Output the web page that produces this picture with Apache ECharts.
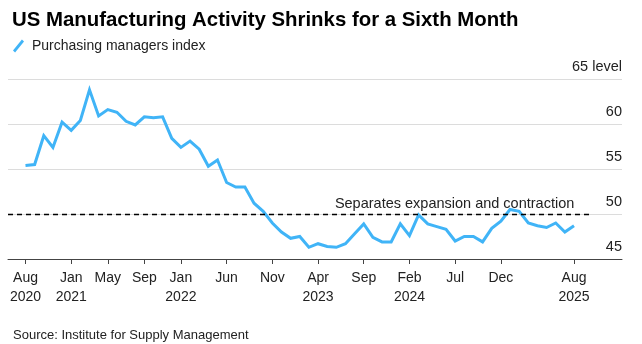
<!DOCTYPE html>
<html>
<head>
<meta charset="utf-8">
<script src="https://cdn.jsdelivr.net/npm/echarts@6/dist/echarts.min.js"></script>
<style>
html,body{margin:0;padding:0;background:#fff;}
#chart{width:642px;height:344px;}
</style>
</head>
<body>
<div id="chart"></div>
<script>
// Months from Aug 2020 (index 0) to Aug 2025 (index 60)
const pmiValues = [
  55.4, 55.5, 58.7, 57.4, 60.2, 59.3, 60.4, 63.8, 60.9, 61.6,
  61.3, 60.3, 59.9, 60.8, 60.7, 60.8, 58.4, 57.4, 58.1, 57.2,
  55.3, 56.0, 53.5, 53.0, 53.0, 51.2, 50.3, 49.0, 48.0, 47.3,
  47.5, 46.3, 46.7, 46.4, 46.3, 46.7, 47.8, 48.9, 47.4, 46.9,
  46.9, 48.9, 47.6, 49.9, 48.9, 48.6, 48.3, 47.0, 47.5, 47.5,
  46.9, 48.4, 49.2, 50.5, 50.3, 49.0, 48.7, 48.5, 49.0, 48.0,
  48.7
];
const tickIndex = [0, 5, 9, 13, 17, 22, 27, 32, 37, 42, 47, 52, 60];
const tickLabels = ['Aug\n2020', 'Jan\n2021', 'May', 'Sep', 'Jan\n2022', 'Jun', 'Nov',
  'Apr\n2023', 'Sep', 'Feb\n2024', 'Jul', 'Dec', 'Aug\n2025'];
const yTicks = [45, 50, 55, 60, 65];
const thresholdValue = 50;
const seriesName = 'Purchasing managers index';
const titleText = 'US Manufacturing Activity Shrinks for a Sixth Month';
const sourceText = 'Source: Institute for Supply Management';
const thresholdText = 'Separates expansion and contraction';

const FONT = 'Liberation Sans';
const xMin = -1.914, xMax = 65.25;
const lineData = pmiValues.map((v, i) => [i, v]);

const chart = echarts.init(document.getElementById('chart'), null, {renderer: 'canvas'});
chart.setOption({
  animation: false,
  textStyle: {fontFamily: FONT},
  title: [
    {text: titleText, left: 7, top: 5,
     textStyle: {fontFamily: FONT, fontSize: 20.4, fontWeight: 'bold', color: '#000'}},
    {text: sourceText, left: 8, top: 324,
     textStyle: {fontFamily: FONT, fontSize: 13, fontWeight: 'normal', color: '#222'}}
  ],
  legend: {
    left: 8, top: 34, itemWidth: 11, itemHeight: 13, itemGap: 6,
    icon: 'path://M0,11L8.5,0.5L10.5,2.3L2,12.8Z',
    textStyle: {fontFamily: FONT, fontSize: 14, color: '#222', padding: [0, 0, 0, 3]},
    data: [seriesName]
  },
  grid: {left: 8, right: 20, top: 79, bottom: 85, containLabel: false},
  xAxis: {
    type: 'value', min: xMin, max: xMax,
    splitLine: {show: false},
    axisLine: {show: true, lineStyle: {color: '#444', width: 1}},
    axisTick: {show: true, customValues: tickIndex, length: 5, lineStyle: {color: '#444'}},
    axisLabel: {
      customValues: tickIndex,
      formatter: v => { const k = tickIndex.indexOf(Math.round(v)); return k >= 0 ? tickLabels[k] : ''; },
      fontFamily: FONT, fontSize: 14, color: '#222', lineHeight: 19, margin: 10
    }
  },
  yAxis: {
    type: 'value', position: 'right', min: 45, max: 65, interval: 5,
    axisLine: {show: false}, axisTick: {show: false},
    splitLine: {show: true, lineStyle: {color: '#dcdcdc', width: 1}},
    axisLabel: {
      inside: true, margin: 0, verticalAlign: 'bottom', padding: [0, 0, 5, 0],
      formatter: v => (yTicks.indexOf(v) >= 0 ? (v === 65 ? '65 level' : String(v)) : ''),
      fontFamily: FONT, fontSize: 14.5, color: '#222'
    }
  },
  series: [{
    name: seriesName, type: 'line', data: lineData,
    showSymbol: false, symbol: 'none',
    lineStyle: {color: '#40b4f7', width: 3, join: 'miter'},
    itemStyle: {color: '#40b4f7'},
    markLine: {
      silent: true, symbol: 'none',
      lineStyle: {color: '#000', type: [5, 4], width: 1.3},
      label: {
        show: true, position: 'insideEndTop', formatter: thresholdText,
        fontFamily: FONT, fontSize: 14.5, color: '#222', distance: [18, 3]
      },
      data: [[{coord: [xMin, thresholdValue]}, {coord: [62, thresholdValue]}]]
    }
  }]
});
</script>
</body>
</html>
